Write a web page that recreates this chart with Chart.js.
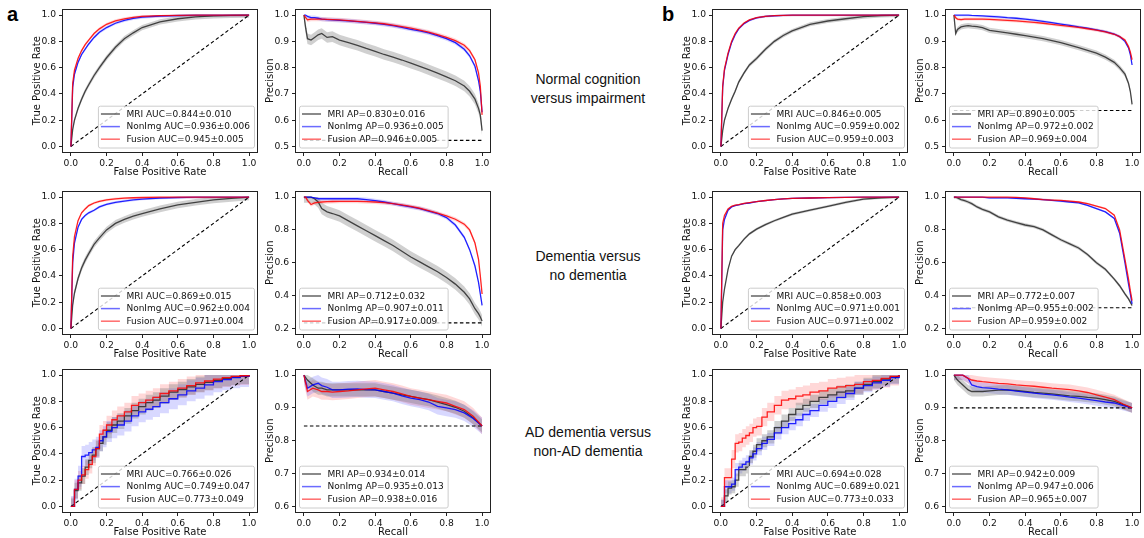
<!DOCTYPE html>
<html><head><meta charset="utf-8">
<script src="https://cdn.jsdelivr.net/npm/chart.js@4.4.0/dist/chart.umd.min.js"></script>
<style>
html,body{margin:0;padding:0;background:#fff;width:1144px;height:538px;overflow:hidden;position:relative;}
canvas{position:absolute;}
.lbl{position:absolute;font-family:'Liberation Sans',Arial,sans-serif;font-size:14px;color:#111;text-align:center;line-height:18.5px;width:220px;left:478px;}
.pl{position:absolute;font-family:'Liberation Sans',Arial,sans-serif;font-weight:bold;font-size:20px;line-height:20px;color:#000;}
</style></head><body>
<div class="pl" style="left:7px;top:4px">a</div>
<div class="pl" style="left:662px;top:4px">b</div>
<div class="lbl" style="top:70px">Normal cognition<br>versus impairment</div>
<div class="lbl" style="top:247px">Dementia versus<br>no dementia</div>
<div class="lbl" style="top:423px">AD dementia versus<br>non-AD dementia</div>
<script>
// ---------- DATA ----------
const seriesNames = ['MRI', 'NonImg', 'Fusion'];
const rocTicks = [0, 0.2, 0.4, 0.6, 0.8, 1.0];
const prTicks = [0, 0.2, 0.4, 0.6, 0.8, 1.0];
const prYTicks1 = [0.5, 0.6, 0.7, 0.8, 0.9, 1.0];
const prYTicks2 = [0.2, 0.4, 0.6, 0.8, 1.0];
const prYTicks3 = [0.6, 0.7, 0.8, 0.9, 1.0];

const rocGrid = [0,0.01,0.02,0.04,0.06,0.08,0.1,0.13,0.16,0.2,0.25,0.3,0.35,0.4,0.5,0.6,0.7,0.8,0.9,1];
const prGrid = [0,0.01,0.02,0.04,0.06,0.08,0.1,0.13,0.16,0.2,0.25,0.3,0.35,0.4,0.45,0.5,0.55,0.6,0.65,0.7,0.75,0.8,0.85,0.9,0.93,0.96,0.98,0.99,1];
const rocStepGrid = [0,0.02,0.04,0.06,0.08,0.1,0.12,0.14,0.16,0.18,0.2,0.23,0.26,0.3,0.34,0.38,0.42,0.46,0.5,0.55,0.6,0.65,0.7,0.75,0.8,0.85,0.9,0.95,1];
const prGrid3 = [0,0.02,0.05,0.08,0.1,0.13,0.16,0.2,0.25,0.3,0.35,0.4,0.45,0.5,0.55,0.6,0.65,0.7,0.75,0.8,0.85,0.9,0.95,1];

// panel a, row 1
const a1RocMri = [0,0.13,0.2,0.29,0.36,0.42,0.47,0.54,0.6,0.675,0.755,0.82,0.865,0.905,0.948,0.972,0.986,0.994,0.998,1];
const a1RocNon = [0,0.45,0.55,0.64,0.7,0.74,0.78,0.83,0.87,0.905,0.938,0.96,0.975,0.985,0.993,0.997,0.999,1,1,1];
const a1RocFus = [0,0.48,0.58,0.67,0.73,0.775,0.81,0.86,0.895,0.93,0.956,0.972,0.982,0.99,0.996,0.998,1,1,1,1];
const a1RocSd = [0.02, 0.012, 0.012];
const a1RocStats = ['AUC=0.844±0.010', 'AUC=0.936±0.006', 'AUC=0.945±0.005'];
const a1PrMri = [1,0.95,0.91,0.905,0.915,0.925,0.93,0.915,0.918,0.905,0.895,0.885,0.873,0.862,0.85,0.84,0.829,0.817,0.805,0.792,0.779,0.765,0.75,0.73,0.71,0.68,0.645,0.62,0.56];
const a1PrNon = [1,1,0.995,0.99,0.99,0.988,0.985,0.983,0.982,0.98,0.978,0.975,0.972,0.969,0.965,0.96,0.953,0.946,0.94,0.932,0.922,0.91,0.895,0.87,0.845,0.805,0.75,0.71,0.63];
const a1PrFus = [1,0.99,0.982,0.985,0.985,0.985,0.985,0.984,0.983,0.982,0.979,0.976,0.973,0.97,0.967,0.962,0.956,0.95,0.943,0.935,0.926,0.915,0.903,0.885,0.865,0.83,0.78,0.73,0.62];
const a1PrSd = [0.02, 0.008, 0.008];
const a1PrStats = ['AP=0.830±0.016', 'AP=0.936±0.005', 'AP=0.946±0.005'];
const a1PrBase = [0.523];

// panel a, row 2
const a2RocMri = [0,0.18,0.27,0.38,0.46,0.52,0.57,0.64,0.69,0.75,0.8,0.83,0.855,0.875,0.91,0.94,0.96,0.978,0.99,1];
const a2RocNon = [0,0.5,0.65,0.77,0.83,0.86,0.88,0.9,0.925,0.945,0.96,0.97,0.978,0.985,0.993,0.997,0.999,1,1,1];
const a2RocFus = [0,0.55,0.7,0.82,0.88,0.91,0.935,0.955,0.968,0.978,0.987,0.992,0.995,0.997,0.999,1,1,1,1,1];
const a2RocSd = [0.025, 0.01, 0.01];
const a2RocStats = ['AUC=0.869±0.015', 'AUC=0.962±0.004', 'AUC=0.971±0.004'];
const a2PrMri = [1,1,1,1,0.99,0.97,0.93,0.91,0.9,0.885,0.855,0.825,0.795,0.765,0.735,0.705,0.67,0.635,0.605,0.575,0.545,0.51,0.47,0.42,0.38,0.32,0.29,0.27,0.245];
const a2PrNon = [1,1,1,1,0.995,0.99,0.99,0.99,0.99,0.99,0.99,0.99,0.985,0.978,0.97,0.96,0.95,0.94,0.93,0.915,0.9,0.875,0.83,0.755,0.68,0.58,0.48,0.41,0.34];
const a2PrFus = [1,1,0.98,0.955,0.965,0.968,0.97,0.972,0.973,0.974,0.974,0.974,0.972,0.97,0.966,0.96,0.952,0.943,0.932,0.918,0.902,0.885,0.865,0.835,0.8,0.72,0.62,0.52,0.41];
const a2PrSd = [0.035, 0.012, 0.012];
const a2PrStats = ['AP=0.712±0.032', 'AP=0.907±0.011', 'AP=0.917±0.009'];
const a2PrBase = [0.234];

// panel a, row 3
const a3RocMri = [0,0.12,0.18,0.23,0.3,0.35,0.39,0.44,0.48,0.53,0.58,0.62,0.65,0.69,0.73,0.76,0.79,0.81,0.84,0.87,0.89,0.91,0.93,0.945,0.96,0.975,0.985,0.993,1];
const a3RocNon = [0,0.13,0.23,0.38,0.39,0.41,0.43,0.45,0.5,0.53,0.57,0.6,0.62,0.65,0.69,0.72,0.74,0.76,0.79,0.82,0.85,0.88,0.9,0.925,0.95,0.965,0.98,0.99,1];
const a3RocFus = [0,0.13,0.2,0.24,0.28,0.32,0.38,0.44,0.55,0.58,0.62,0.66,0.69,0.72,0.77,0.79,0.81,0.83,0.86,0.88,0.9,0.92,0.94,0.955,0.97,0.98,0.99,0.995,1];
const a3RocSd = [0.06, 0.08, 0.07];
const a3RocStats = ['AUC=0.766±0.026', 'AUC=0.749±0.047', 'AUC=0.773±0.049'];
const a3PrMri = [1,0.985,0.97,0.96,0.96,0.955,0.955,0.955,0.955,0.955,0.955,0.955,0.95,0.945,0.94,0.935,0.93,0.925,0.918,0.91,0.902,0.89,0.87,0.845];
const a3PrNon = [1,0.96,0.97,0.975,0.968,0.963,0.955,0.955,0.957,0.958,0.956,0.955,0.95,0.945,0.937,0.93,0.925,0.918,0.905,0.9,0.895,0.885,0.868,0.845];
const a3PrFus = [1,0.95,0.96,0.955,0.95,0.95,0.948,0.95,0.952,0.955,0.958,0.96,0.955,0.95,0.943,0.935,0.93,0.925,0.92,0.915,0.905,0.895,0.875,0.845];
const a3PrSd = [0.02, 0.025, 0.025];
const a3PrStats = ['AP=0.934±0.014', 'AP=0.935±0.013', 'AP=0.938±0.016'];
const a3PrBase = [0.845];

// panel b, row 1
const b1RocMri = [0,0.12,0.2,0.29,0.36,0.42,0.49,0.56,0.62,0.67,0.74,0.8,0.845,0.88,0.93,0.955,0.972,0.988,0.997,1];
const b1RocNon = [0,0.45,0.58,0.7,0.79,0.85,0.895,0.935,0.96,0.978,0.99,0.995,0.998,1,1,1,1,1,1,1];
const b1RocFus = [0,0.46,0.59,0.71,0.8,0.86,0.9,0.94,0.963,0.98,0.99,0.996,0.998,1,1,1,1,1,1,1];
const b1RocSd = [0.015, 0.008, 0.008];
const b1RocStats = ['AUC=0.846±0.005', 'AUC=0.959±0.002', 'AUC=0.959±0.003'];
const b1PrMri = [1,0.93,0.945,0.955,0.958,0.96,0.958,0.956,0.952,0.942,0.937,0.932,0.927,0.922,0.916,0.91,0.903,0.895,0.886,0.876,0.866,0.855,0.84,0.82,0.8,0.775,0.74,0.71,0.66];
const b1PrNon = [1,1,1,1,1,1,0.999,0.998,0.997,0.995,0.993,0.99,0.988,0.985,0.981,0.976,0.971,0.966,0.961,0.955,0.95,0.944,0.937,0.928,0.918,0.9,0.875,0.85,0.81];
const b1PrFus = [1,0.99,0.985,0.983,0.985,0.985,0.985,0.985,0.985,0.984,0.982,0.98,0.978,0.975,0.972,0.969,0.965,0.961,0.957,0.953,0.948,0.943,0.936,0.927,0.918,0.905,0.88,0.86,0.83];
const b1PrSd = [0.01, 0.005, 0.006];
const b1PrStats = ['AP=0.890±0.005', 'AP=0.972±0.002', 'AP=0.969±0.004'];
const b1PrBase = [0.637];

// panel b, row 2
const b2RocMri = [0,0.2,0.3,0.45,0.55,0.6,0.63,0.68,0.72,0.756,0.79,0.82,0.845,0.87,0.9,0.93,0.96,0.985,0.995,1];
const b2RocNon = [0,0.75,0.83,0.9,0.925,0.935,0.94,0.95,0.955,0.965,0.973,0.98,0.986,0.99,0.993,0.996,0.998,1,1,1];
const b2RocFus = [0,0.8,0.86,0.91,0.93,0.938,0.943,0.952,0.958,0.966,0.974,0.981,0.986,0.99,0.993,0.996,0.998,1,1,1];
const b2RocSd = [0.01, 0.005, 0.005];
const b2RocStats = ['AUC=0.858±0.003', 'AUC=0.971±0.001', 'AUC=0.971±0.002'];
const b2PrMri = [1,1,0.995,0.985,0.978,0.97,0.96,0.94,0.925,0.91,0.88,0.86,0.845,0.83,0.82,0.8,0.77,0.74,0.715,0.69,0.65,0.6,0.56,0.5,0.46,0.41,0.38,0.36,0.34];
const b2PrNon = [1,1,1,1,1,1,1,1,1,0.995,0.995,0.995,0.993,0.99,0.988,0.985,0.98,0.975,0.97,0.965,0.95,0.93,0.91,0.87,0.78,0.6,0.47,0.41,0.35];
const b2PrFus = [1,1,1,1,1,1,1,1,1,1,1,1,0.998,0.995,0.99,0.985,0.982,0.98,0.975,0.97,0.96,0.945,0.93,0.89,0.8,0.62,0.5,0.43,0.37];
const b2PrSd = [0.01, 0.006, 0.006];
const b2PrStats = ['AP=0.772±0.007', 'AP=0.955±0.002', 'AP=0.959±0.002'];
const b2PrBase = [0.326];

// panel b, row 3
const b3RocMri = [0,0.08,0.14,0.15,0.2,0.28,0.28,0.3,0.38,0.42,0.47,0.5,0.53,0.6,0.65,0.7,0.74,0.77,0.8,0.83,0.85,0.87,0.88,0.9,0.93,0.95,0.97,0.985,1];
const b3RocNon = [0,0.15,0.15,0.17,0.28,0.3,0.32,0.34,0.37,0.4,0.44,0.48,0.51,0.56,0.6,0.63,0.66,0.7,0.73,0.77,0.8,0.83,0.86,0.9,0.92,0.94,0.96,0.98,1];
const b3RocFus = [0,0.22,0.22,0.36,0.48,0.49,0.52,0.54,0.56,0.6,0.61,0.68,0.72,0.77,0.81,0.82,0.84,0.85,0.87,0.88,0.9,0.91,0.92,0.93,0.95,0.96,0.975,0.99,1];
const b3RocSd = [0.05, 0.05, 0.07];
const b3RocStats = ['AUC=0.694±0.028', 'AUC=0.689±0.021', 'AUC=0.773±0.033'];
const b3PrMri = [1,0.985,0.97,0.955,0.95,0.95,0.95,0.952,0.954,0.955,0.953,0.95,0.947,0.945,0.943,0.94,0.937,0.935,0.932,0.93,0.925,0.92,0.91,0.9];
const b3PrNon = [1,1,1,0.99,0.97,0.965,0.962,0.96,0.957,0.955,0.951,0.948,0.945,0.942,0.94,0.937,0.933,0.93,0.926,0.922,0.918,0.915,0.907,0.9];
const b3PrFus = [1,1,1,0.99,0.985,0.982,0.98,0.978,0.975,0.973,0.97,0.968,0.966,0.963,0.96,0.958,0.956,0.952,0.947,0.94,0.933,0.925,0.912,0.9];
const b3PrSd = [0.015, 0.015, 0.015];
const b3PrStats = ['AP=0.942±0.009', 'AP=0.947±0.006', 'AP=0.965±0.007'];
const b3PrBase = [0.9];

// ---------- LAYOUT / STYLE ----------
const FONT = "'DejaVu Sans', sans-serif";
const TXT = '#111';
const YA = 50, XA = 27, PAD_T = 5, PAD_R = 6, BOX_W = 196, BOX_H = 148;
const lineColors = ['rgba(40,40,40,0.85)', 'rgba(0,0,255,0.85)', 'rgba(255,0,0,0.85)'];
const handleColors = ['rgba(60,60,60,0.8)', 'rgba(70,70,255,0.8)', 'rgba(255,70,70,0.8)'];
const bandColors = ['rgba(120,120,120,0.35)', 'rgba(60,60,255,0.2)', 'rgba(255,60,60,0.2)'];

const panels = [
  {kind:'roc', x:rocGrid, ys:[a1RocMri,a1RocNon,a1RocFus], sd:a1RocSd, stats:a1RocStats, yt:rocTicks, ymin:-0.05, ymax:1.05, left:62, top:5},
  {kind:'pr', x:prGrid, ys:[a1PrMri,a1PrNon,a1PrFus], sd:a1PrSd, stats:a1PrStats, base:a1PrBase[0], yt:prYTicks1, ymin:0.475, ymax:1.025, left:295, top:5},
  {kind:'roc', x:rocGrid, ys:[a2RocMri,a2RocNon,a2RocFus], sd:a2RocSd, stats:a2RocStats, yt:rocTicks, ymin:-0.05, ymax:1.05, left:62, top:187},
  {kind:'pr', x:prGrid, ys:[a2PrMri,a2PrNon,a2PrFus], sd:a2PrSd, stats:a2PrStats, base:a2PrBase[0], yt:prYTicks2, ymin:0.16, ymax:1.04, left:295, top:187},
  {kind:'roc', x:rocStepGrid, ys:[a3RocMri,a3RocNon,a3RocFus], sd:a3RocSd, stats:a3RocStats, yt:rocTicks, ymin:-0.05, ymax:1.05, left:62, top:365, stepped:true},
  {kind:'pr', x:prGrid3, ys:[a3PrMri,a3PrNon,a3PrFus], sd:a3PrSd, stats:a3PrStats, base:a3PrBase[0], yt:prYTicks3, ymin:0.58, ymax:1.02, left:295, top:365},
  {kind:'roc', x:rocGrid, ys:[b1RocMri,b1RocNon,b1RocFus], sd:b1RocSd, stats:b1RocStats, yt:rocTicks, ymin:-0.05, ymax:1.05, left:712, top:5},
  {kind:'pr', x:prGrid, ys:[b1PrMri,b1PrNon,b1PrFus], sd:b1PrSd, stats:b1PrStats, base:b1PrBase[0], yt:prYTicks1, ymin:0.475, ymax:1.025, left:945, top:5},
  {kind:'roc', x:rocGrid, ys:[b2RocMri,b2RocNon,b2RocFus], sd:b2RocSd, stats:b2RocStats, yt:rocTicks, ymin:-0.05, ymax:1.05, left:712, top:187},
  {kind:'pr', x:prGrid, ys:[b2PrMri,b2PrNon,b2PrFus], sd:b2PrSd, stats:b2PrStats, base:b2PrBase[0], yt:prYTicks2, ymin:0.16, ymax:1.04, left:945, top:187},
  {kind:'roc', x:rocStepGrid, ys:[b3RocMri,b3RocNon,b3RocFus], sd:b3RocSd, stats:b3RocStats, yt:rocTicks, ymin:-0.05, ymax:1.05, left:712, top:365, stepped:true},
  {kind:'pr', x:prGrid3, ys:[b3PrMri,b3PrNon,b3PrFus], sd:b3PrSd, stats:b3PrStats, base:b3PrBase[0], yt:prYTicks3, ymin:0.58, ymax:1.02, left:945, top:365}
];

const boxPlugin = {
  id: 'mplBox',
  afterDraw(chart) {
    const {ctx, chartArea: a} = chart;
    ctx.save();
    ctx.strokeStyle = '#222';
    ctx.lineWidth = 1;
    ctx.strokeRect(Math.round(a.left) + 0.5, Math.round(a.top) + 0.5, Math.round(a.right - a.left) - 1, Math.round(a.bottom - a.top) - 1);
    ctx.restore();
  }
};

const legendPlugin = {
  id: 'mplLegend',
  afterDraw(chart, args, opts) {
    if (!opts || !opts.items) return;
    const {ctx, chartArea: a} = chart;
    ctx.save();
    ctx.font = '9px ' + FONT;
    const items = opts.items;
    const tw = Math.max(...items.map(it => ctx.measureText(it.label).width));
    const padX = 3, hl = 19, gap = 6.5, rowH = opts.rowH;
    const w = padX + hl + gap + tw + 4;
    const h = rowH * items.length + 4;
    const x = opts.corner === 'lr' ? a.right - 4 - w : a.left + 4;
    const y = a.bottom - opts.insetB - h;
    ctx.beginPath();
    if (ctx.roundRect) ctx.roundRect(x + 0.5, y + 0.5, w, h, 2); else ctx.rect(x + 0.5, y + 0.5, w, h);
    ctx.fillStyle = 'rgba(255,255,255,0.8)';
    ctx.fill();
    ctx.strokeStyle = '#cccccc';
    ctx.lineWidth = 1;
    ctx.stroke();
    items.forEach((it, i) => {
      const cy = y + 2 + rowH * (i + 0.5);
      ctx.beginPath();
      ctx.moveTo(x + padX, cy);
      ctx.lineTo(x + padX + hl, cy);
      ctx.strokeStyle = it.color;
      ctx.lineWidth = 1.5;
      ctx.stroke();
      ctx.fillStyle = TXT;
      ctx.textBaseline = 'middle';
      ctx.textAlign = 'left';
      ctx.fillText(it.label, x + padX + hl + gap, cy + 0.5);
    });
    ctx.restore();
  }
};

function makeChart(p) {
  const W = YA + BOX_W + PAD_R, H = PAD_T + BOX_H + XA;
  const cv = document.createElement('canvas');
  cv.width = W; cv.height = H;
  cv.style.width = W + 'px'; cv.style.height = H + 'px';
  cv.style.left = (p.left - YA) + 'px';
  cv.style.top = (p.top - PAD_T) + 'px';
  document.body.appendChild(cv);

  const datasets = [];
  p.ys.forEach((ys, i) => {
    datasets.push({
      data: p.x.map((x, k) => ({x: x, y: ys[k]})),
      borderColor: lineColors[i], borderWidth: 1.3, pointRadius: 0, fill: false,
      stepped: !!p.stepped, tension: 0, order: 2 - i
    });
  });
  const ref = p.kind === 'roc' ? [{x: 0, y: 0}, {x: 1, y: 1}] : [{x: 0, y: p.base}, {x: 1, y: p.base}];
  datasets.push({data: ref, borderColor: '#000', borderDash: [3.5, 2.5], borderWidth: 1.1, pointRadius: 0, fill: false, order: 3});
  p.ys.forEach((ys, i) => {
    const lowerIdx = datasets.length + 1;
    datasets.push({
      data: p.x.map((x, k) => ({x: x, y: Math.min(1, ys[k] + p.sd[i])})),
      borderColor: 'rgba(0,0,0,0)', borderWidth: 0.01, pointRadius: 0,
      fill: lowerIdx, backgroundColor: bandColors[i], stepped: !!p.stepped, order: 4 + i
    });
    datasets.push({
      data: p.x.map((x, k) => ({x: x, y: Math.max(0, ys[k] - p.sd[i])})),
      borderColor: 'rgba(0,0,0,0)', borderWidth: 0.01, pointRadius: 0,
      fill: false, stepped: !!p.stepped, order: 4 + i
    });
  });

  const tickFont = {family: FONT, size: 9.2};
  const titleFont = {family: FONT, size: 10};
  const xTicks = p.kind === 'roc' ? rocTicks : prTicks;
  new Chart(cv, {
    type: 'line',
    data: {datasets},
    plugins: [boxPlugin, legendPlugin],
    options: {
      responsive: false, animation: false, devicePixelRatio: 1,
      layout: {padding: {top: PAD_T, right: PAD_R, left: 0, bottom: 0}},
      plugins: {
        legend: {display: false}, tooltip: {enabled: false},
        mplLegend: {
          corner: p.kind === 'roc' ? 'lr' : 'll',
          rowH: 12.6, insetB: 5.5,
          items: seriesNames.map((n, i) => ({label: n + ' ' + p.stats[i], color: handleColors[i]}))
        }
      },
      scales: {
        x: {
          type: 'linear', min: -0.05, max: 1.05,
          afterBuildTicks: s => { s.ticks = xTicks.map(v => ({value: v})); },
          afterFit: s => { s.height = XA; },
          ticks: {font: tickFont, color: TXT, padding: 2, autoSkip: false, maxRotation: 0, callback: v => Number(v).toFixed(1)},
          grid: {display: true, drawOnChartArea: false, drawTicks: true, tickLength: 3, tickColor: '#222'},
          border: {display: false},
          title: {display: true, text: p.kind === 'roc' ? 'False Positive Rate' : 'Recall', font: titleFont, color: TXT, padding: {top: 0, bottom: 2}}
        },
        y: {
          type: 'linear', min: p.ymin, max: p.ymax,
          afterBuildTicks: s => { s.ticks = p.yt.map(v => ({value: v})); },
          afterFit: s => { s.width = YA; },
          ticks: {font: tickFont, color: TXT, padding: 3, autoSkip: false, callback: v => Number(v).toFixed(1)},
          grid: {display: true, drawOnChartArea: false, drawTicks: true, tickLength: 3, tickColor: '#222'},
          border: {display: false},
          title: {display: true, text: p.kind === 'roc' ? 'True Positive Rate' : 'Precision', font: titleFont, color: TXT, padding: {top: 19.5, bottom: 0}}
        }
      }
    }
  });
}

panels.forEach(makeChart);
</script>
</body></html>
